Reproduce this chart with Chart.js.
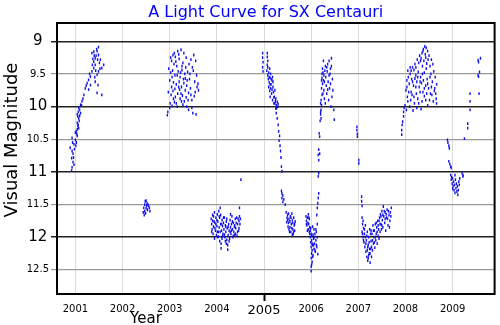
<!DOCTYPE html>
<html>
<head>
<meta charset="utf-8">
<script src="https://cdn.jsdelivr.net/npm/chart.js@4.4.1/dist/chart.umd.min.js"></script>
<style>
  html, body { margin: 0; padding: 0; background: #fff; }
  canvas { display: block; }
</style>
</head>
<body>
<canvas id="lightCurve" width="500" height="325"></canvas>
<script>
// SX Cen visual estimates, one list per observing season: [decimal year, magnitude]
const season2001 = [
  [2000.92,10.98],[2000.93,10.93],[2000.97,10.89],[2000.92,10.79],[2000.95,10.85],[2000.93,10.68],
  [2000.95,10.72],[2000.89,10.63],[2000.97,10.58],[2000.98,10.65],[2001.00,10.51],[2000.93,10.48],
  [2001.02,10.55],[2001.04,10.45],[2001.00,10.40],[2001.03,10.42],[2001.04,10.35],[2001.07,10.33],
  [2001.06,10.28],[2001.04,10.25],[2001.08,10.22],[2001.07,10.18],[2001.05,10.15],[2001.04,10.12],
  [2001.11,10.10],[2001.09,10.05],[2001.07,10.02],[2001.11,9.97],[2001.14,9.92],[2001.18,9.82],
  [2001.21,9.72],[2001.25,9.64],[2001.28,9.59],[2001.28,9.74],[2001.32,9.54],[2001.32,9.67],
  [2001.35,9.46],[2001.39,9.41],[2001.42,9.36],[2001.39,9.31],[2001.42,9.26],[2001.35,9.18],
  [2001.39,9.16],[2001.46,9.15],[2001.49,9.21],[2001.53,9.28],[2001.56,9.41],[2001.49,9.46],
  [2001.46,9.51],[2001.60,9.36],[2001.42,9.62],[2001.48,9.67],[2001.46,9.79],[2001.56,9.82],
  [2001.44,9.22],[2001.51,9.33],[2001.37,9.27],[2001.43,9.45],[2001.49,9.09],[2001.45,9.12],
  [2000.94,10.55],[2000.96,10.78],[2001.01,10.60],[2001.02,10.38],[2001.05,10.30],[2001.06,10.08],
  [2001.09,10.14],[2001.13,9.98],[2001.16,9.88],[2001.23,9.68],[2001.30,9.50],[2001.36,9.36],
  [2001.40,9.22],[2001.47,9.28],[2001.52,9.42],[2001.41,9.55]
];
const season2002 = [
  [2002.44,11.62],[2002.45,11.55],[2002.47,11.50],[2002.48,11.45],[2002.50,11.44],[2002.52,11.48],
  [2002.50,11.56],[2002.53,11.58],[2002.55,11.52],[2002.57,11.55],[2002.58,11.60],[2002.47,11.60],
  [2002.46,11.66],[2002.51,11.52],[2002.49,11.63],[2002.54,11.50]
];
const season2003 = [
  [2003.24,9.13],[2003.07,9.21],[2003.51,9.21],[2003.17,9.15],[2003.30,9.18],[2003.12,9.24],
  [2003.04,9.30],[2003.20,9.27],[2003.35,9.25],[2003.45,9.28],[2003.55,9.30],[2003.09,9.35],
  [2003.28,9.33],[2003.15,9.38],[2002.98,9.42],[2003.02,9.48],[2003.06,9.45],[2003.11,9.52],
  [2003.18,9.46],[2003.22,9.55],[2003.26,9.44],[2003.32,9.50],[2003.38,9.47],[2003.42,9.58],
  [2003.48,9.40],[2003.53,9.62],[2003.00,9.60],[2003.08,9.63],[2003.14,9.66],[2003.20,9.62],
  [2003.25,9.70],[2003.30,9.64],[2003.36,9.68],[2003.44,9.72],[2003.58,9.70],[2003.61,9.75],
  [2002.97,9.78],[2003.03,9.82],[2003.07,9.76],[2003.12,9.85],[2003.17,9.80],[2003.22,9.88],
  [2003.27,9.83],[2003.31,9.92],[2003.35,9.86],[2003.40,9.79],[2003.47,9.90],[2003.52,9.84],
  [2003.01,9.95],[2003.05,9.99],[2003.10,9.93],[2003.16,10.00],[2003.28,9.97],[2003.40,10.05],
  [2003.47,10.02],[2003.49,10.10],[2003.56,10.12],[2002.95,10.13],[2002.96,10.08],[2003.21,9.74],
  [2003.33,9.57],[2003.13,9.31],[2003.02,9.25],[2003.10,9.18],[2003.19,9.20],[2003.26,9.38],
  [2003.34,9.40],[2003.41,9.35],[2003.50,9.45],[2003.57,9.52],[2003.05,9.55],[2003.16,9.52],
  [2003.23,9.48],[2003.29,9.58],[2003.37,9.60],[2003.43,9.50],[2003.04,9.70],[2003.11,9.73],
  [2003.19,9.70],[2003.24,9.80],[2003.33,9.75],[2003.39,9.90],[2003.45,9.82],[2003.54,9.78],
  [2003.08,9.88],[2003.14,9.95],[2003.25,9.92],[2003.36,10.00],[2003.60,9.65],[2003.00,10.02]
];
const season2004 = [
  [2003.88,11.72],[2003.89,11.80],[2003.90,11.88],[2003.91,11.75],[2003.92,11.95],[2003.93,11.68],
  [2003.93,11.84],[2003.95,12.02],[2003.96,11.78],[2003.97,11.90],[2003.98,11.70],[2003.99,11.97],
  [2004.00,11.83],[2004.01,11.65],[2004.02,11.76],[2004.03,11.92],[2004.04,11.60],[2004.05,11.85],
  [2004.06,11.70],[2004.07,11.55],[2004.08,11.66],[2004.08,11.80],[2004.09,12.10],[2004.09,12.17],
  [2004.10,11.90],[2004.11,11.74],[2004.12,11.83],[2004.13,11.95],[2004.14,11.78],[2004.15,11.88],
  [2004.16,11.70],[2004.17,12.00],[2004.18,11.82],[2004.19,11.92],[2004.20,11.76],[2004.21,12.04],
  [2004.22,11.86],[2004.23,12.12],[2004.23,12.19],[2004.24,11.97],[2004.25,11.80],[2004.26,11.90],
  [2004.27,12.02],[2004.28,11.74],[2004.29,11.85],[2004.30,11.95],[2004.31,11.80],[2004.32,11.68],
  [2004.33,11.88],[2004.34,12.00],[2004.35,11.78],[2004.36,11.92],[2004.37,11.84],[2004.38,11.96],
  [2004.39,11.72],[2004.40,11.86],[2004.42,11.70],[2004.43,11.98],[2004.44,11.80],[2004.46,11.90],
  [2004.47,11.75],[2004.48,11.68],[2004.48,11.55],[2004.50,11.72],[2004.51,11.12],[2004.06,12.06],
  [2004.03,11.99],[2004.18,12.06],[2004.29,11.65],[2003.95,11.62],[2003.89,11.92],[2003.91,11.66],
  [2003.94,11.76],[2003.96,11.86],[2003.98,11.80],[2004.00,11.74],[2004.01,11.92],[2004.02,12.00],
  [2004.05,11.68],[2004.07,11.92],[2004.10,11.80],[2004.12,11.98],[2004.14,11.70],[2004.16,11.96],
  [2004.19,11.84],[2004.21,11.72],[2004.24,11.84],[2004.26,12.06],[2004.28,11.92],[2004.31,11.90],
  [2004.33,11.76],[2004.35,11.98],[2004.38,11.82],[2004.40,11.95],[2004.41,11.78],[2004.44,11.92],
  [2004.45,11.72],[2004.47,11.86],[2004.49,11.80],[2004.11,12.02],[2004.20,12.10]
];
const season2005 = [
  [2004.97,9.18],[2004.97,9.25],[2004.98,9.32],[2004.97,9.40],[2004.98,9.46],[2005.07,9.18],
  [2005.07,9.24],[2005.08,9.30],[2005.07,9.36],[2005.06,9.45],[2005.08,9.52],[2005.10,9.48],
  [2005.12,9.42],[2005.14,9.50],[2005.09,9.58],[2005.11,9.63],[2005.13,9.56],[2005.15,9.66],
  [2005.17,9.60],[2005.18,9.55],[2005.10,9.70],[2005.12,9.76],[2005.14,9.72],[2005.16,9.80],
  [2005.19,9.70],[2005.20,9.78],[2005.22,9.85],[2005.13,9.85],[2005.18,9.90],[2005.21,9.95],
  [2005.24,9.92],[2005.26,9.98],[2005.27,10.02],[2005.25,9.88],[2005.23,9.75],[2005.29,10.00],
  [2005.30,9.96],[2005.26,10.10],[2005.28,10.18],[2005.30,10.28],[2005.31,10.38],[2005.33,10.45],
  [2005.32,10.52],[2005.34,10.60],[2005.35,10.68],[2005.36,10.78],[2005.37,10.92],[2005.38,10.99],
  [2005.37,11.29],[2005.38,11.33],[2005.40,11.36],[2005.38,11.40],[2005.42,11.42],[2005.40,11.46],
  [2005.45,11.50],[2005.47,11.62],[2005.49,11.70],[2005.50,11.66],[2005.52,11.78],[2005.53,11.72],
  [2005.55,11.85],[2005.56,11.68],[2005.57,11.92],[2005.58,11.80],[2005.60,11.74],[2005.61,11.88],
  [2005.62,11.95],[2005.63,11.70],[2005.64,11.82],[2005.65,11.90],[2005.66,11.76],[2005.54,11.92],
  [2005.59,11.64],[2005.51,11.84],[2005.48,11.77],[2005.08,9.40],[2005.11,9.55],[2005.13,9.66],
  [2005.15,9.58],[2005.17,9.74],[2005.19,9.62],[2005.21,9.86],[2005.23,9.95],[2005.25,10.03],
  [2005.28,9.93],[2005.50,11.74],[2005.53,11.88],[2005.55,11.76],[2005.57,11.70],[2005.59,11.86],
  [2005.61,11.78],[2005.63,11.92],[2005.65,11.80],[2005.52,11.64],[2005.60,11.96]
];
const season2006 = [
  [2005.89,11.68],[2005.90,11.75],[2005.91,11.82],[2005.92,11.70],[2005.93,11.78],[2005.94,11.88],
  [2005.95,11.80],[2005.96,11.92],[2005.96,11.72],[2005.97,11.85],[2005.98,12.00],[2005.98,11.90],
  [2005.99,12.08],[2006.00,11.95],[2006.00,12.15],[2006.01,12.25],[2006.01,12.05],[2006.02,12.38],
  [2006.02,12.20],[2006.00,12.32],[2006.00,12.45],[2006.00,12.52],[2006.03,12.12],[2006.04,11.96],
  [2006.04,12.28],[2006.05,12.02],[2006.06,11.88],[2006.06,12.18],[2006.07,12.10],[2006.08,11.95],
  [2006.09,12.22],[2006.10,12.05],[2006.11,11.92],[2006.12,12.15],[2006.13,12.00],[2006.14,12.26],
  [2006.03,11.84],[2005.94,11.65],[2006.12,11.66],[2006.13,11.55],[2006.14,11.48],[2006.15,11.40],
  [2006.16,11.33],[2006.15,11.07],[2006.16,11.02],[2006.16,10.82],[2006.15,10.74],[2006.16,10.66],
  [2006.17,10.41],[2006.18,10.46],[2006.18,10.72],[2006.19,10.22],[2006.20,10.12],[2006.20,10.08],
  [2006.21,10.18],[2006.21,10.05],[2006.22,9.98],[2006.21,9.90],[2006.23,9.82],[2006.22,9.72],
  [2006.24,9.65],[2006.23,9.56],[2006.25,9.48],[2006.24,9.42],[2006.26,9.60],[2006.27,9.52],
  [2006.27,9.75],[2006.28,9.88],[2006.29,9.45],[2006.30,9.38],[2006.31,9.55],[2006.32,9.68],
  [2006.33,9.80],[2006.34,9.46],[2006.35,9.35],[2006.36,9.62],[2006.37,9.90],[2006.38,9.30],
  [2006.39,9.72],[2006.40,9.50],[2006.41,9.42],[2006.42,10.00],[2006.43,9.26],[2006.44,9.85],
  [2006.45,9.58],[2006.30,9.95],[2006.26,9.30],[2006.48,10.05],[2006.49,10.20],[2005.90,11.80],
  [2005.92,11.90],[2005.95,11.70],[2005.97,11.95],[2005.99,11.86],[2006.01,11.98],[2006.02,12.10],
  [2006.03,12.30],[2006.05,12.12],[2006.07,12.00],[2006.08,12.20],[2006.10,11.88],[2006.11,12.12],
  [2006.13,11.80],[2006.01,12.42],[2006.23,9.50],[2006.25,9.80],[2006.28,9.62],[2006.33,9.40],
  [2006.35,9.74],[2006.38,9.52],[2006.41,9.65],[2006.43,9.38],[2006.46,9.75],[2006.22,9.60],
  [2006.20,9.95]
];
const season2007 = [
  [2006.97,10.31],[2006.97,10.36],[2006.98,10.42],[2006.98,10.46],[2007.01,10.82],[2007.01,10.87],
  [2007.07,11.38],[2007.07,11.45],[2007.08,11.52],[2007.08,11.70],[2007.09,11.80],[2007.08,11.92],
  [2007.10,12.00],[2007.11,11.86],[2007.12,12.08],[2007.13,11.95],[2007.14,12.15],[2007.15,11.82],
  [2007.16,12.22],[2007.17,12.05],[2007.18,12.30],[2007.19,11.92],[2007.20,12.36],[2007.21,12.12],
  [2007.22,12.00],[2007.23,12.25],[2007.24,11.88],[2007.25,12.39],[2007.26,12.18],[2007.27,12.06],
  [2007.28,12.30],[2007.29,11.95],[2007.30,12.20],[2007.31,11.82],[2007.32,12.10],[2007.33,12.00],
  [2007.34,11.90],[2007.35,12.16],[2007.36,11.80],[2007.37,12.05],[2007.38,11.95],[2007.39,11.85],
  [2007.40,12.10],[2007.41,11.75],[2007.42,11.98],[2007.43,11.88],[2007.44,12.02],[2007.45,11.70],
  [2007.46,11.92],[2007.47,11.65],[2007.48,11.80],[2007.49,11.88],[2007.50,11.60],[2007.51,11.74],
  [2007.52,11.85],[2007.53,11.53],[2007.54,11.68],[2007.56,11.78],[2007.57,11.62],[2007.58,11.90],
  [2007.60,11.70],[2007.61,11.58],[2007.63,11.82],[2007.65,11.66],[2007.67,11.75],[2007.70,11.55],
  [2007.68,11.62],[2007.15,12.00],[2007.22,12.28],[2007.27,11.90],[2007.10,11.75],[2007.09,11.95],
  [2007.11,12.05],[2007.13,11.88],[2007.16,12.10],[2007.18,11.98],[2007.19,12.20],[2007.21,12.32],
  [2007.23,12.08],[2007.24,12.18],[2007.26,11.95],[2007.28,12.15],[2007.30,12.05],[2007.32,11.90],
  [2007.34,12.08],[2007.36,12.00],[2007.38,11.78],[2007.40,11.92],[2007.42,11.82],[2007.44,11.75],
  [2007.46,11.80],[2007.48,11.68],[2007.50,11.82],[2007.52,11.66],[2007.55,11.60],[2007.57,11.72],
  [2007.59,11.65],[2007.62,11.72],[2007.64,11.60],[2007.66,11.85],[2007.69,11.68],[2007.20,12.15],
  [2007.25,12.25]
];
const season2008 = [
  [2007.92,10.43],[2007.92,10.36],[2007.93,10.28],[2007.94,10.23],[2007.96,10.15],[2007.96,10.08],
  [2007.97,10.02],[2008.41,9.08],[2008.38,9.12],[2008.44,9.10],[2008.35,9.18],[2008.47,9.15],
  [2008.30,9.22],[2008.42,9.20],[2008.50,9.22],[2008.25,9.28],[2008.33,9.26],[2008.39,9.30],
  [2008.55,9.28],[2008.20,9.35],[2008.28,9.33],[2008.45,9.34],[2008.52,9.38],[2008.15,9.40],
  [2008.36,9.38],[2008.05,9.45],[2008.10,9.50],[2008.18,9.44],[2008.22,9.52],[2008.27,9.47],
  [2008.32,9.55],[2008.40,9.48],[2008.46,9.58],[2008.54,9.50],[2008.60,9.46],[2008.03,9.60],
  [2008.08,9.65],[2008.13,9.58],[2008.17,9.68],[2008.24,9.62],[2008.29,9.70],[2008.34,9.64],
  [2008.43,9.68],[2008.49,9.72],[2008.57,9.62],[2008.63,9.55],[2008.66,9.66],[2008.20,9.57],
  [2008.38,9.60],[2008.01,9.75],[2008.04,9.85],[2008.07,9.78],[2008.11,9.90],[2008.14,9.82],
  [2008.19,9.95],[2008.23,9.80],[2008.26,9.88],[2008.31,9.78],[2008.35,9.92],[2008.40,9.84],
  [2008.45,9.80],[2008.51,9.90],[2008.56,9.82],[2008.61,9.76],[2008.65,9.88],[2008.66,9.95],
  [2007.99,9.98],[2008.02,10.05],[2008.09,10.00],[2008.16,10.06],[2008.24,10.02],[2008.33,10.04],
  [2008.47,9.98],[2008.37,9.15],[2008.43,9.25],[2008.32,9.30],[2008.48,9.28],[2008.22,9.40],
  [2008.58,9.35],[2008.12,9.45],[2008.26,9.55],[2008.36,9.50],[2008.44,9.42],[2008.52,9.55],
  [2008.06,9.55],[2008.15,9.62],[2008.22,9.70],[2008.31,9.62],[2008.40,9.72],[2008.47,9.65],
  [2008.55,9.70],[2008.62,9.72],[2008.05,9.92],[2008.12,9.78],[2008.18,9.85],[2008.28,9.95],
  [2008.37,9.78],[2008.43,9.90],[2008.53,9.80],[2008.59,9.92],[2008.64,9.80],[2008.10,9.40],
  [2008.03,9.70]
];
const season2009 = [
  [2008.89,10.51],[2008.90,10.55],[2008.92,10.60],[2008.93,10.64],[2008.92,10.84],[2008.94,10.88],
  [2008.96,10.92],[2008.97,10.94],[2008.96,11.05],[2008.97,11.12],[2008.98,11.08],[2008.99,11.18],
  [2009.00,11.10],[2009.01,11.22],[2009.02,11.15],[2009.03,11.28],[2009.04,11.20],[2009.05,11.32],
  [2009.06,11.12],[2009.07,11.25],[2009.08,11.18],[2009.09,11.30],[2009.10,11.22],[2009.11,11.35],
  [2009.12,11.28],[2009.13,11.15],[2009.14,11.20],[2009.15,11.10],[2009.05,11.05],[2009.00,11.26],
  [2009.20,11.02],[2009.22,11.05],[2009.22,11.07],[2009.25,10.49],[2009.32,10.26],[2009.32,10.33],
  [2009.37,9.80],[2009.37,9.92],[2009.37,10.05],[2009.54,9.52],[2009.55,9.54],[2009.57,9.47],
  [2009.56,9.80],[2009.54,9.29],[2009.55,9.32],[2009.59,9.26]
];

const yearTicks = [2001, 2002, 2003, 2004, 2005, 2006, 2007, 2008, 2009];
const magTicks = [9, 9.5, 10, 10.5, 11, 11.5, 12, 12.5];

const titleText = 'A Light Curve for SX Centauri';
const xTitle = 'Year';
const yTitle = 'Visual Magnitude';

const allObs = [season2001, season2002, season2003, season2004, season2005,
                season2006, season2007, season2008, season2009]
  .flat()
  .map(([x, y]) => ({ x, y }));

const FONT = '"DejaVu Sans", Verdana, sans-serif';

// title, axis names and the box round the plot
const frameAndLabels = {
  id: 'frameAndLabels',
  afterDraw(chart) {
    const { ctx, chartArea: a } = chart;
    ctx.save();
    ctx.strokeStyle = '#000';
    ctx.lineWidth = 2;
    ctx.strokeRect(a.left, a.top, a.right - a.left, a.bottom - a.top);

    ctx.fillStyle = '#0000ff';
    ctx.font = '16px ' + FONT;
    ctx.textAlign = 'center';
    ctx.textBaseline = 'alphabetic';
    ctx.fillText(titleText, (a.left + a.right) / 2 - 10, 17);

    ctx.fillStyle = '#000';
    ctx.font = '15px ' + FONT;
    ctx.fillText(xTitle, 146, 323);

    ctx.translate(12, 140);
    ctx.rotate(-Math.PI / 2);
    ctx.font = '18px ' + FONT;
    ctx.textBaseline = 'middle';
    ctx.fillText(yTitle, 0, 0);
    ctx.restore();
  }
};

const ctx = document.getElementById('lightCurve').getContext('2d');
new Chart(ctx, {
  type: 'scatter',
  data: {
    datasets: [{
      data: allObs,
      pointStyle: 'line',
      rotation: 90,
      radius: 1.4,
      borderWidth: 1.4,
      borderColor: '#1010e8',
      backgroundColor: '#1010e8'
    }]
  },
  options: {
    responsive: false,
    animation: false,
    devicePixelRatio: 1,
    layout: { padding: { top: 23, right: 3, left: 0, bottom: 0 } },
    plugins: {
      legend: { display: false },
      title: { display: false },
      tooltip: { enabled: false }
    },
    scales: {
      x: {
        type: 'linear',
        min: 2000.61,
        max: 2009.89,
        afterBuildTicks: (scale) => { scale.ticks = yearTicks.map(v => ({ value: v })); },
        afterFit: (scale) => { scale.height = 31; },
        border: { display: false },
        grid: {
          color: '#dcdcdc',
          lineWidth: 1,
          tickLength: 7,
          tickColor: (c) => c.tick && c.tick.value === 2005 ? '#000' : 'rgba(0,0,0,0)',
          tickWidth: (c) => c.tick && c.tick.value === 2005 ? 2 : 1
        },
        ticks: {
          autoSkip: false,
          maxRotation: 0,
          padding: 2,
          color: '#000',
          font: (c) => ({ family: FONT, size: c.tick && c.tick.value === 2005 ? 13 : 10 }),
          callback: (v) => String(v)
        }
      },
      y: {
        type: 'linear',
        reverse: true,
        min: 8.72,
        max: 12.87,
        afterBuildTicks: (scale) => { scale.ticks = magTicks.map(v => ({ value: v })); },
        afterFit: (scale) => { scale.width = 57; },
        border: { display: false },
        grid: {
          color: (c) => c.tick && Number.isInteger(c.tick.value) ? '#222' : '#999',
          lineWidth: (c) => c.tick && Number.isInteger(c.tick.value) ? 1.5 : 1.2,
          tickLength: 6
        },
        ticks: {
          autoSkip: false,
          crossAlign: 'center',
          padding: 2,
          color: '#000',
          font: (c) => ({ family: FONT, size: c.tick && Number.isInteger(c.tick.value) ? 15 : 10 }),
          callback: (v) => String(v)
        }
      }
    }
  },
  plugins: [frameAndLabels]
});
</script>
</body>
</html>
